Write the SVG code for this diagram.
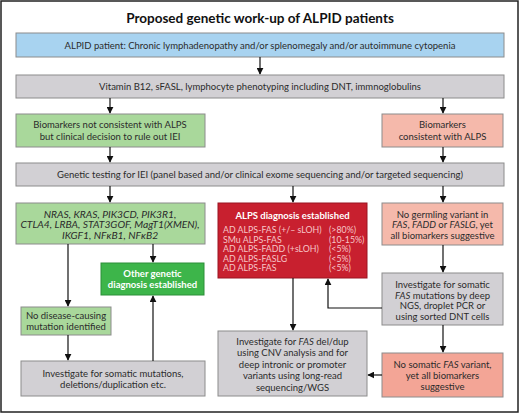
<svg xmlns="http://www.w3.org/2000/svg" width="520" height="414" viewBox="0 0 520 414">
<style>
text{font-family:Lato,"Open Sans","Liberation Sans",sans-serif;font-size:9.5px;fill:#2b2b2b;text-anchor:middle}
.title{font-size:13.5px;font-weight:bold;fill:#111}
.box{stroke:#8c8c8c;stroke-width:1}
.blue{fill:#a8d3f0}
.gray{fill:#d2d0d4}
.lg{fill:#a9d89b}
.pk{fill:#f5b9ab}
.sal{fill:#f3a596}
.red{fill:#c8202f;stroke:#9a1522}
.bg{fill:#3db54a;stroke:#2c8f38}
.w{fill:#fff;font-weight:bold}
.rt{fill:#f7c6c8;text-anchor:start;font-size:8.8px}
.gi{font-style:italic;font-size:10.3px}
.conn line,.conn polyline{stroke:#111;stroke-width:1.2;fill:none;marker-end:url(#ah)}
</style>
<defs>
<marker id="ah" viewBox="0 0 10 10" refX="9" refY="5" markerWidth="7" markerHeight="7" markerUnits="userSpaceOnUse" orient="auto">
<path d="M0,0 L10,5 L0,10 z" fill="#111"/>
</marker>
</defs>
<rect x="1" y="1" width="517" height="411" fill="#fff" stroke="#222" stroke-width="1.5"/>
<text class="title" x="260" y="23">Proposed genetic work-up of ALPID patients</text>

<g id="n1"><rect class="box blue" x="16" y="33" width="488" height="24"/>
<text x="260" y="48.5">ALPID patient: Chronic lymphadenopathy and/or splenomegaly and/or autoimmune cytopenia</text></g>

<g id="n2"><rect class="box gray" x="16" y="75" width="488" height="23"/>
<text x="260" y="90">Vitamin B12, sFASL, lymphocyte phenotyping including DNT, immnoglobulins</text></g>

<g id="n3"><rect class="box lg" x="16" y="114" width="189" height="33"/>
<text x="110" y="128">Biomarkers not consistent with ALPS</text>
<text x="110" y="139.5">but clinical decision to rule out IEI</text></g>

<g id="n4"><rect class="box pk" x="382" y="114" width="121" height="33"/>
<text x="442.5" y="128">Biomarkers</text>
<text x="442.5" y="139.5">consistent with ALPS</text></g>

<g id="n5"><rect class="box gray" x="16" y="163" width="488" height="23"/>
<text x="260" y="178">Genetic testing for IEI (panel based and/or clinical exome sequencing and/or targeted sequencing)</text></g>

<g id="n6"><rect class="box lg" x="16" y="203" width="189" height="41"/>
<text class="gi" x="110" y="217.5">NRAS, KRAS, PIK3CD, PIK3R1,</text>
<text class="gi" x="110" y="228">CTLA4, LRBA, STAT3GOF, MagT1(XMEN),</text>
<text class="gi" x="110" y="238.5">IKGF1, NFκB1, NFκB2</text></g>

<g id="n7"><rect class="red" x="218" y="203" width="149" height="75"/>
<text class="w" x="292.5" y="218.5" font-size="10.5">ALPS diagnosis established</text>
<text class="rt" x="223" y="233">AD ALPS-FAS (+/– sLOH)</text>
<text class="rt" x="223" y="242.5">SMu ALPS-FAS</text>
<text class="rt" x="223" y="252">AD ALPS-FADD (+sLOH)</text>
<text class="rt" x="223" y="261.5">AD ALPS-FASLG</text>
<text class="rt" x="223" y="271">AD ALPS-FAS</text>
<text class="rt" x="329" y="233">(&gt;80%)</text>
<text class="rt" x="329" y="242.5">(10-15%)</text>
<text class="rt" x="329" y="252">(&lt;5%)</text>
<text class="rt" x="329" y="261.5">(&lt;5%)</text>
<text class="rt" x="329" y="271">(&lt;5%)</text></g>

<g id="n8"><rect class="box pk" x="382" y="203" width="121" height="42"/>
<text x="442.5" y="217.5">No germling variant in</text>
<text x="442.5" y="228"><tspan font-style="italic">FAS</tspan>, <tspan font-style="italic">FADD</tspan> or <tspan font-style="italic">FASLG</tspan>, yet</text>
<text x="442.5" y="238.5">all biomarkers suggestive</text></g>

<g id="n9"><rect class="bg" x="101" y="263" width="103" height="32"/>
<text class="w" x="152.5" y="276.5" font-size="10">Other genetic</text>
<text class="w" x="152.5" y="288" font-size="10">diagnosis established</text></g>

<g id="n10"><rect class="box gray" x="382" y="273" width="121" height="52"/>
<text x="442.5" y="288">Investigate for somatic</text>
<text x="442.5" y="298.5"><tspan font-style="italic">FAS</tspan> mutations by deep</text>
<text x="442.5" y="309">NGS, droplet PCR or</text>
<text x="442.5" y="319.5">using sorted DNT cells</text></g>

<g id="n11"><rect class="box lg" x="21" y="307" width="90" height="28"/>
<text x="66" y="319">No disease-causing</text>
<text x="66" y="330">mutation identified</text></g>

<g id="n12"><rect class="box gray" x="218" y="331" width="149" height="65"/>
<text x="292.5" y="344.5">Investigate for <tspan font-style="italic">FAS</tspan> del/dup</text>
<text x="292.5" y="356">using CNV analysis and for</text>
<text x="292.5" y="367.5">deep intronic or promoter</text>
<text x="292.5" y="379">variants using long-read</text>
<text x="292.5" y="390.5">sequencing/WGS</text></g>

<g id="n13"><rect class="box gray" x="21" y="361" width="184" height="35"/>
<text x="113" y="376.5">Investigate for somatic mutations,</text>
<text x="113" y="388">deletions/duplication etc.</text></g>

<g id="n14"><rect class="box sal" x="382" y="353" width="121" height="44"/>
<text x="442.5" y="367.5">No somatic <tspan font-style="italic">FAS</tspan> variant,</text>
<text x="442.5" y="378.5">yet all biomarkers</text>
<text x="442.5" y="389.5">suggestive</text></g>

<g class="conn" id="connectors">
<line x1="260" y1="57" x2="260" y2="74"/>
<line x1="110" y1="98" x2="110" y2="113"/>
<line x1="443" y1="98" x2="443" y2="113"/>
<line x1="110" y1="147" x2="110" y2="162"/>
<line x1="443" y1="147" x2="443" y2="162"/>
<line x1="110" y1="186" x2="110" y2="202"/>
<line x1="293" y1="186" x2="293" y2="202"/>
<line x1="443" y1="186" x2="443" y2="202"/>
<line x1="68" y1="244" x2="68" y2="306"/>
<line x1="153" y1="244" x2="153" y2="262"/>
<line x1="443" y1="245" x2="443" y2="272"/>
<polyline points="382,308 328,308 328,279"/>
<line x1="293" y1="278" x2="293" y2="330"/>
<line x1="443" y1="325" x2="443" y2="352"/>
<line x1="68" y1="335" x2="68" y2="360"/>
<line x1="153" y1="361" x2="153" y2="296"/>
<line x1="382" y1="375" x2="368" y2="375"/>
</g>
</svg>
